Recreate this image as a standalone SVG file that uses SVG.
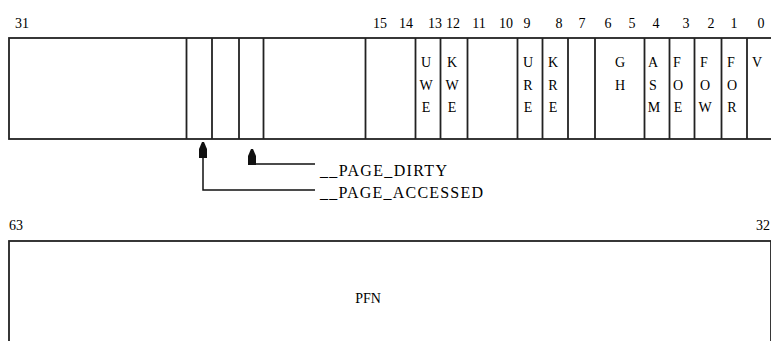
<svg xmlns="http://www.w3.org/2000/svg" width="771" height="341" viewBox="0 0 771 341">
<style>
.box{fill:#fff;stroke:#222;stroke-width:1.8}
.div{stroke:#222;stroke-width:1.8}
.t{font-family:"Liberation Serif",serif;font-size:14px;fill:#000}
.lbl{font-size:16px}
.c{text-anchor:middle}
.con{fill:none;stroke:#111;stroke-width:1.5}
</style>
<defs>
<marker id="ah" viewBox="0 0 16 8" refX="16" refY="4" markerWidth="16" markerHeight="8" markerUnits="userSpaceOnUse" orient="auto">
<path d="M0,0 L9,0 L16,3 L16,5 L9,8 L0,8 z" fill="#111"/>
</marker>
</defs>
<g id="bit-numbers" class="t c">
<text x="22" y="28">31</text>
<text x="380" y="28">15</text>
<text x="406" y="28">14</text>
<text x="435" y="28">13</text>
<text x="453" y="28">12</text>
<text x="479" y="28">11</text>
<text x="506" y="28">10</text>
<text x="527" y="28">9</text>
<text x="559" y="28">8</text>
<text x="582" y="28">7</text>
<text x="608" y="28">6</text>
<text x="632" y="28">5</text>
<text x="656" y="28">4</text>
<text x="686" y="28">3</text>
<text x="711" y="28">2</text>
<text x="734" y="28">1</text>
<text x="761" y="28">0</text>
</g>
<g id="low-word">
<rect class="box" x="9" y="38" width="775" height="101"/>
<g class="div">
<line x1="186.5" y1="38" x2="186.5" y2="139"/>
<line x1="212" y1="38" x2="212" y2="139"/>
<line x1="239" y1="38" x2="239" y2="139"/>
<line x1="263.5" y1="38" x2="263.5" y2="139"/>
<line x1="365.5" y1="38" x2="365.5" y2="139"/>
<line x1="415.5" y1="38" x2="415.5" y2="139"/>
<line x1="440.5" y1="38" x2="440.5" y2="139"/>
<line x1="467.5" y1="38" x2="467.5" y2="139"/>
<line x1="517.5" y1="38" x2="517.5" y2="139"/>
<line x1="542.5" y1="38" x2="542.5" y2="139"/>
<line x1="568" y1="38" x2="568" y2="139"/>
<line x1="595" y1="38" x2="595" y2="139"/>
<line x1="644.5" y1="38" x2="644.5" y2="139"/>
<line x1="669.5" y1="38" x2="669.5" y2="139"/>
<line x1="694.5" y1="38" x2="694.5" y2="139"/>
<line x1="721.5" y1="38" x2="721.5" y2="139"/>
<line x1="747" y1="38" x2="747" y2="139"/>
</g>
</g>
<g id="UWE" class="t c"><text x="426" y="67">U</text><text x="426" y="90">W</text><text x="426" y="112">E</text></g>
<g id="KWE" class="t c"><text x="452" y="67">K</text><text x="452" y="90">W</text><text x="452" y="112">E</text></g>
<g id="URE" class="t c"><text x="528" y="67">U</text><text x="528" y="90">R</text><text x="528" y="112">E</text></g>
<g id="KRE" class="t c"><text x="553" y="67">K</text><text x="553" y="90">R</text><text x="553" y="112">E</text></g>
<g id="GH" class="t c"><text x="620" y="67">G</text><text x="620" y="90">H</text></g>
<g id="ASM" class="t c"><text x="653" y="67">A</text><text x="653" y="90">S</text><text x="654" y="112">M</text></g>
<g id="FOE" class="t c"><text x="677" y="67">F</text><text x="678" y="90">O</text><text x="678" y="112">E</text></g>
<g id="FOW" class="t c"><text x="704" y="67">F</text><text x="705" y="90">O</text><text x="705" y="112">W</text></g>
<g id="FOR" class="t c"><text x="731" y="67">F</text><text x="732" y="90">O</text><text x="732" y="112">R</text></g>
<g id="V" class="t c"><text x="757" y="67">V</text></g>
<g id="connectors">
<path class="con" d="M315,164 H252 V149" marker-end="url(#ah)"/>
<path class="con" d="M315,190 H203 V142" marker-end="url(#ah)"/>
</g>
<g id="page-dirty" class="t lbl"><text x="320" y="176" textLength="127" lengthAdjust="spacing">__PAGE_DIRTY</text></g>
<g id="page-accessed" class="t lbl"><text x="320" y="198" textLength="163" lengthAdjust="spacing">__PAGE_ACCESSED</text></g>
<g id="high-bit-numbers" class="t c">
<text x="16" y="230">63</text>
<text x="763" y="230">32</text>
</g>
<g id="high-word">
<rect class="box" x="9" y="241" width="762" height="120"/>
<text class="t c" x="368" y="303">PFN</text>
</g>
</svg>
